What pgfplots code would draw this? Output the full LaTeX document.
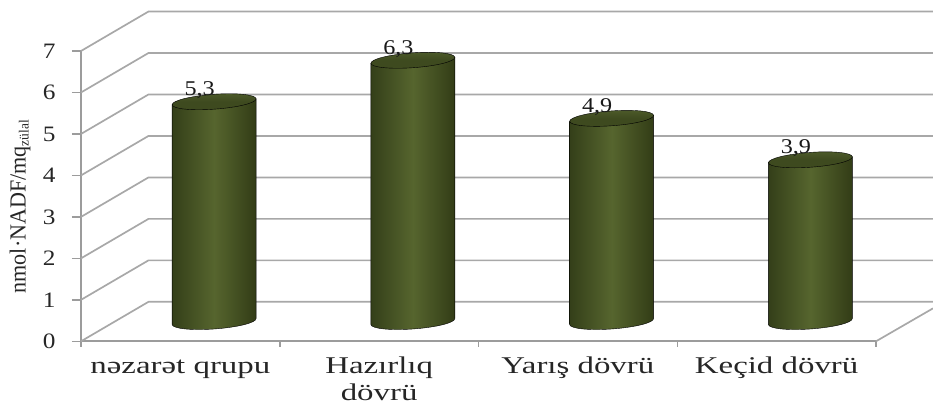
\documentclass[border=0pt]{standalone}
\usepackage{pgfplots}
\pgfplotsset{compat=1.18}
\usepackage{fontspec}
\setmainfont[FakeStretch=1.37]{Liberation Serif}
\newfontfamily\ylabelfont[FakeStretch=0.96]{Liberation Serif}
\newfontfamily\tickfont[FakeStretch=1.15]{Liberation Serif}

\definecolor{gridgray}{HTML}{A8A8A8}
\definecolor{axisgray}{HTML}{9C9C9C}
\definecolor{cylEdgeL}{HTML}{343F19}
\definecolor{cylMid}{HTML}{56652E}
\definecolor{cylEdgeR}{HTML}{323C16}
\definecolor{capDark}{HTML}{3E4A1F}
\definecolor{capRim}{HTML}{4D5B2A}

% A tilted cylinder whose top sits at the plotted point; its height follows
% the y value at 41.47pt per unit.
\pgfdeclareplotmark{cylinder}{%
  \pgfmathsetlengthmacro\cylH{\cylV*41.47pt}%
  \shade[left color=cylEdgeL,right color=cylEdgeR,middle color=cylMid]
    (-41.95pt,-3pt) -- ([yshift=-\cylH]-41.95pt,-3pt)
    .. controls ([yshift=-\cylH]-41.67pt,-7.09pt) and ([yshift=-\cylH]-22.67pt,-9.06pt) .. ([yshift=-\cylH]0.5pt,-7.4pt)
    .. controls ([yshift=-\cylH]23.67pt,-5.74pt) and ([yshift=-\cylH]42.23pt,-1.09pt) .. ([yshift=-\cylH]41.95pt,3pt)
    -- (41.95pt,3pt) -- cycle;
  \shade[top color=capRim,bottom color=capDark,middle color=capDark]
    (41.95pt,3pt)
    .. controls (41.67pt,7.09pt) and (22.67pt,9.06pt) .. (-0.5pt,7.4pt)
    .. controls (-23.67pt,5.74pt) and (-42.23pt,1.09pt) .. (-41.95pt,-3pt)
    .. controls (-41.67pt,-7.09pt) and (-22.67pt,-9.06pt) .. (0.5pt,-7.4pt)
    .. controls (23.67pt,-5.74pt) and (42.23pt,-1.09pt) .. (41.95pt,3pt) -- cycle;
}

\pgfplotsset{
  wall/.style={draw=gridgray,line width=1.7pt,no markers,line join=round},
}

\begin{document}
\begin{tikzpicture}
\useasboundingbox (0,0) rectangle (933pt,410pt);

% front plane: axes, ticks and the receding grid of the walls
\begin{axis}[
  at={(81pt,68.7pt)},anchor=south west,
  scale only axis,width=795pt,height=290.3pt,
  xmin=0,xmax=4,ymin=0,ymax=7,clip=false,
  axis lines=left,axis line style={draw=axisgray,line width=1.7pt,-},
  tick align=outside,major tick length=9pt,
  tick style={draw=axisgray,line width=1.5pt},
  xtick={0,1,2,3,4},xticklabels={},
  xtick style={/pgfplots/major tick length=5.5pt},
  ytick={0,1,2,3,4,5,6,7},
  /pgf/number format/assume math mode=true,
  yticklabel style={font=\tickfont\fontsize{22}{24}\selectfont,anchor=east,xshift=-13pt,text=black!85},
  extra x ticks={0.5,1.5,2.5,3.5},
  extra x tick labels={\strut nəzarət qrupu,{\strut Hazırlıq\\dövrü},\strut Yarış dövrü,\strut Keçid dövrü},
  extra x tick style={
    major tick length=0pt,
    tick style={draw=none},
    ticklabel style={font=\fontsize{24}{27}\selectfont,align=center,anchor=north,yshift=-13pt,inner sep=0pt,text=black!85},
  },
  ylabel={\ylabelfont\fontsize{23}{24}\selectfont nmol·NADF/mq\raisebox{-3pt}{\fontsize{14}{15}\selectfont zülal}},
  ylabel style={at={(axis description cs:-0.0767,0.464)},anchor=center,text=black!85},
]
\addplot[wall] coordinates {(0,0) (0.3396,0.952) (4.287,0.952)};
\addplot[wall] coordinates {(0,1) (0.3396,1.952) (4.287,1.952)};
\addplot[wall] coordinates {(0,2) (0.3396,2.952) (4.287,2.952)};
\addplot[wall] coordinates {(0,3) (0.3396,3.952) (4.287,3.952)};
\addplot[wall] coordinates {(0,4) (0.3396,4.952) (4.287,4.952)};
\addplot[wall] coordinates {(0,5) (0.3396,5.952) (4.287,5.952)};
\addplot[wall] coordinates {(0,6) (0.3396,6.952) (4.287,6.952)};
\addplot[wall] coordinates {(0,7) (0.3396,7.952) (4.287,7.952)};
\addplot[wall] coordinates {(4,0) (4.287,0.795)};
\end{axis}

% mid-depth plane: the cylinders, on the same scales
\begin{axis}[
  at={(114.75pt,88.45pt)},anchor=south west,
  scale only axis,width=795pt,height=290.3pt,
  xmin=0,xmax=4,ymin=0,ymax=7,clip=false,hide axis,
]
\addplot[only marks,scatter,mark=cylinder,
  visualization depends on={rawy \as \cylV},
  nodes near coords,
  /pgf/number format/.cd,fixed,fixed zerofill,precision=1,use comma,assume math mode=true,
  /pgfplots/.cd,
  every node near coord/.style={anchor=base,xshift=-14.5pt,yshift=6pt,
    font=\tickfont\fontsize{21}{22}\selectfont,text=black!90},
] coordinates {(0.5,5.3) (1.5,6.3) (2.5,4.9) (3.5,3.9)};
\end{axis}
\end{tikzpicture}
\end{document}
